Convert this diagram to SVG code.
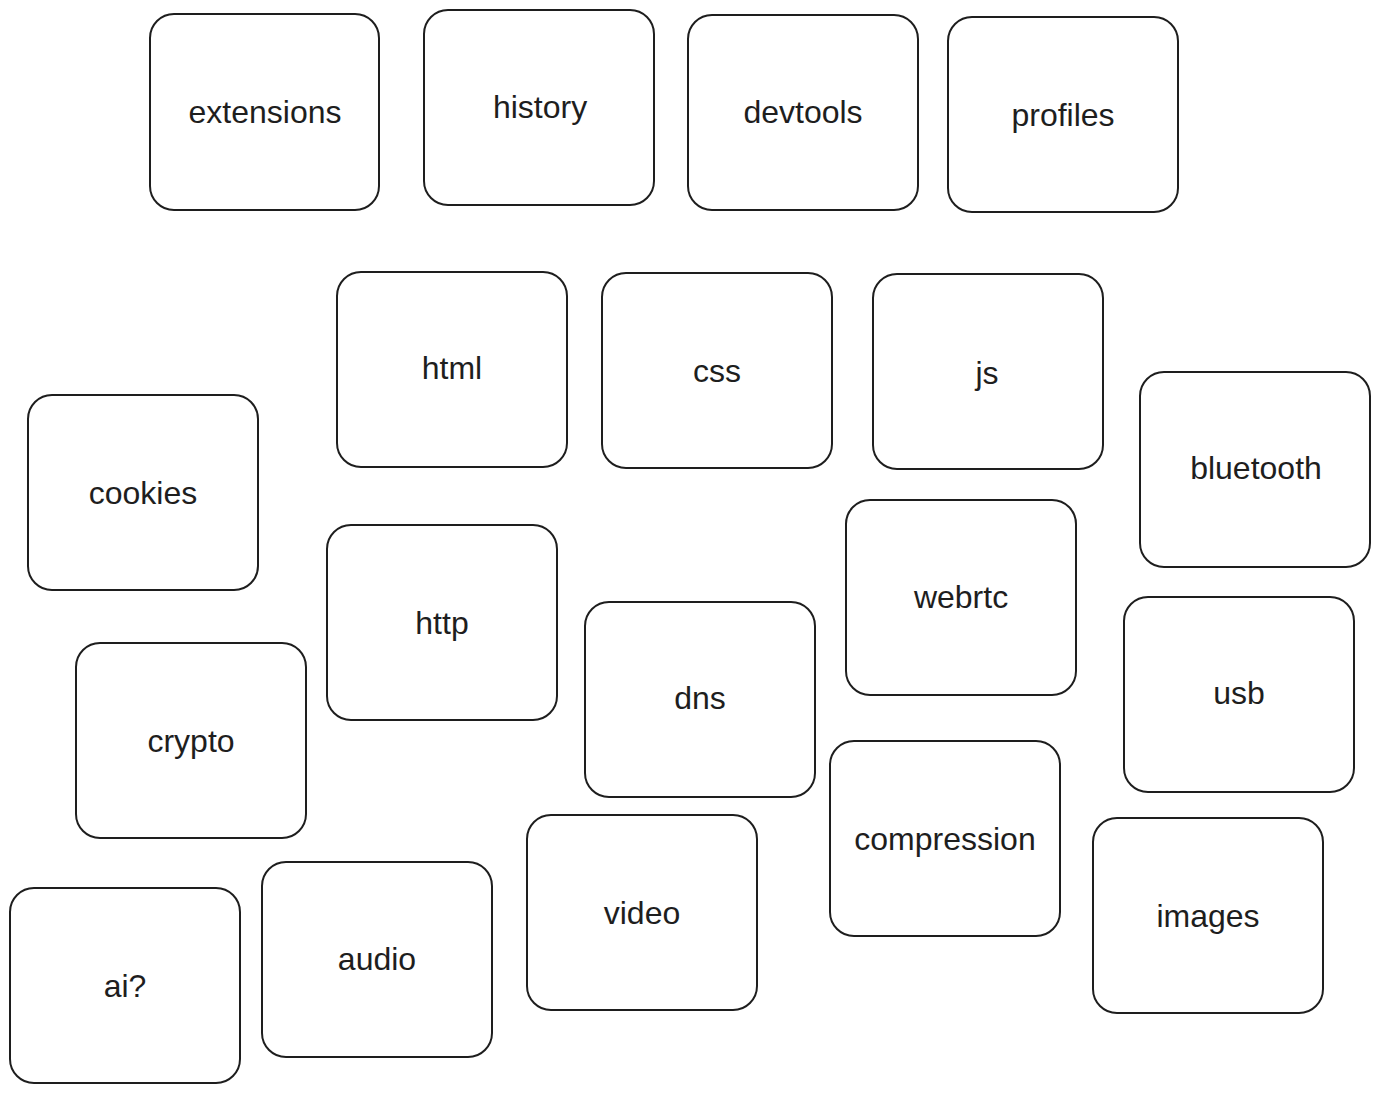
<svg xmlns="http://www.w3.org/2000/svg" width="1381" height="1094" viewBox="0 0 1381 1094">
<style>
.b{fill:#fff;stroke:#1e1e1e;stroke-width:2}
.t{font-family:"Liberation Sans",Arial,sans-serif;font-size:32px;fill:#1e1e1e;text-anchor:middle;dominant-baseline:central}
</style>
<rect width="1381" height="1094" fill="#fff"/>
<g id="extensions"><rect class="b" x="150" y="14" width="229" height="196" rx="24"/><text class="t" x="265" y="112">extensions</text></g>
<g id="history"><rect class="b" x="424" y="10" width="230" height="195" rx="24"/><text class="t" x="540" y="107">history</text></g>
<g id="devtools"><rect class="b" x="688" y="15" width="230" height="195" rx="24"/><text class="t" x="803" y="112">devtools</text></g>
<g id="profiles"><rect class="b" x="948" y="17" width="230" height="195" rx="24"/><text class="t" x="1063" y="115">profiles</text></g>
<g id="html"><rect class="b" x="337" y="272" width="230" height="195" rx="24"/><text class="t" x="452" y="368">html</text></g>
<g id="css"><rect class="b" x="602" y="273" width="230" height="195" rx="24"/><text class="t" x="717" y="371">css</text></g>
<g id="js"><rect class="b" x="873" y="274" width="230" height="195" rx="24"/><text class="t" x="987" y="373">js</text></g>
<g id="bluetooth"><rect class="b" x="1140" y="372" width="230" height="195" rx="24"/><text class="t" x="1256" y="468">bluetooth</text></g>
<g id="cookies"><rect class="b" x="28" y="395" width="230" height="195" rx="24"/><text class="t" x="143" y="493">cookies</text></g>
<g id="http"><rect class="b" x="327" y="525" width="230" height="195" rx="24"/><text class="t" x="442" y="623">http</text></g>
<g id="webrtc"><rect class="b" x="846" y="500" width="230" height="195" rx="24"/><text class="t" x="961" y="597">webrtc</text></g>
<g id="dns"><rect class="b" x="585" y="602" width="230" height="195" rx="24"/><text class="t" x="700" y="698">dns</text></g>
<g id="usb"><rect class="b" x="1124" y="597" width="230" height="195" rx="24"/><text class="t" x="1239" y="693">usb</text></g>
<g id="crypto"><rect class="b" x="76" y="643" width="230" height="195" rx="24"/><text class="t" x="191" y="741">crypto</text></g>
<g id="compression"><rect class="b" x="830" y="741" width="230" height="195" rx="24"/><text class="t" x="945" y="839">compression</text></g>
<g id="images"><rect class="b" x="1093" y="818" width="230" height="195" rx="24"/><text class="t" x="1208" y="916">images</text></g>
<g id="video"><rect class="b" x="527" y="815" width="230" height="195" rx="24"/><text class="t" x="642" y="913">video</text></g>
<g id="audio"><rect class="b" x="262" y="862" width="230" height="195" rx="24"/><text class="t" x="377" y="959">audio</text></g>
<g id="ai"><rect class="b" x="10" y="888" width="230" height="195" rx="24"/><text class="t" x="125" y="986">ai?</text></g>
<g id="connectors"></g>
</svg>
